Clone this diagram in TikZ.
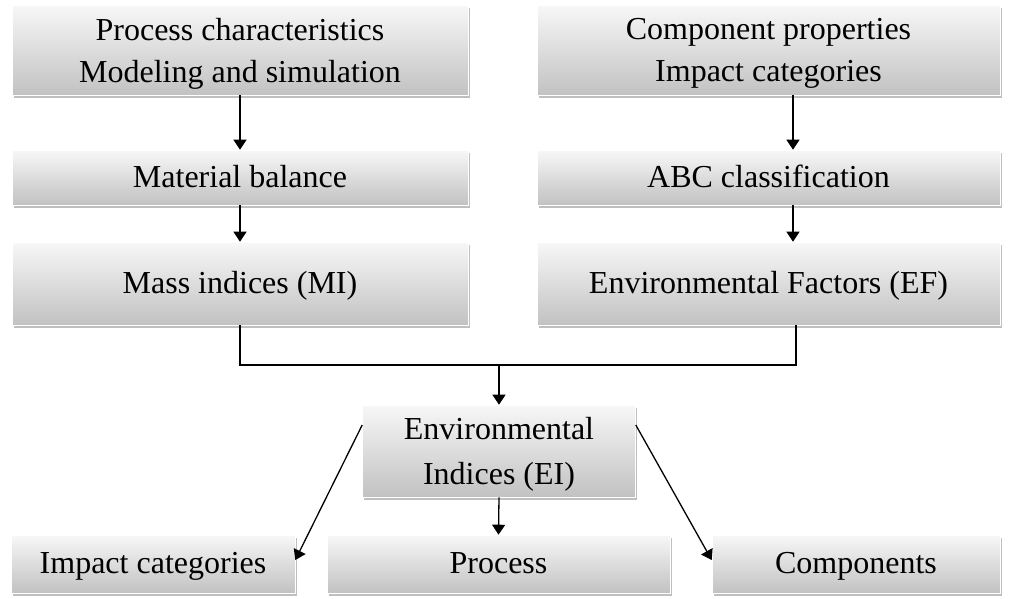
\documentclass[tikz,border=0pt]{standalone}
\usepackage{fontspec}
\setmainfont{Liberation Serif}
\usetikzlibrary{arrows.meta,shadows,calc}
\begin{document}
\begin{tikzpicture}[x=1pt,y=-1pt,
  box/.style={rectangle, draw=white, line width=0.6pt, top color=white!97!black, bottom color=black!24,
    drop shadow={shadow xshift=1.5pt, shadow yshift=-2.5pt, fill=black, opacity=0.25},
    inner sep=0pt, font=\fontsize{32}{42}\selectfont, align=center},
  sl/.style={text height=24pt, text depth=5pt},
  ml/.style={text depth=0pt},
  arr/.style={-{Triangle[length=10pt,width=13pt]}, line width=1.3pt, black}]
\useasboundingbox (0,0) rectangle (1013,598);
\node[box, ml, minimum width=456pt, minimum height=90pt] (pc) at (240,50) {Process characteristics\\Modeling and simulation};
\node[box, ml, minimum width=463pt, minimum height=90pt] (cp) at (768.5,50) {Component properties\\Impact categories};
\node[box, sl, minimum width=456pt, minimum height=55pt] (mb) at (240,177.5) {Material balance};
\node[box, sl, minimum width=463pt, minimum height=55pt] (abc) at (768.5,177.5) {ABC classification};
\node[box, sl, minimum width=456pt, minimum height=83pt] (mi) at (240,283.5) {Mass indices (MI)};
\node[box, sl, minimum width=463pt, minimum height=83pt] (ef) at (768.5,283.5) {Environmental Factors (EF)};
\node[box, ml, font=\fontsize{32}{45}\selectfont, minimum width=273pt, minimum height=92pt] (ei) at (499,451) {Environmental\\Indices (EI)};
\node[box, sl, minimum width=284pt, minimum height=58pt] (ic) at (153,564) {Impact categories};
\node[box, sl, minimum width=343pt, minimum height=58pt] (pr) at (498.5,564) {Process};
\node[box, sl, minimum width=288pt, minimum height=58pt] (co) at (856,564) {Components};
\coordinate (j) at (499,365);
\draw[arr] (pc.south) -- (mb.north);
\draw[arr] (cp.south -| 793,0) -- (abc.north -| 793,0);
\draw[arr] (mb.south) -- (mi.north);
\draw[arr] (abc.south -| 793,0) -- (ef.north -| 793,0);
\draw[line width=1.3pt] (mi.south) |- (j) -| (ef.south -| 796,0);
\draw[arr] (j) -- (ei.north);
\draw[arr] (ei.west |- 0,425) -- (ic.east |- 0,560);
\draw[arr] (ei.east |- 0,425) -- (co.west |- 0,560);
\draw[arr] (ei.south) -- (pr.north);
\end{tikzpicture}
\end{document}
